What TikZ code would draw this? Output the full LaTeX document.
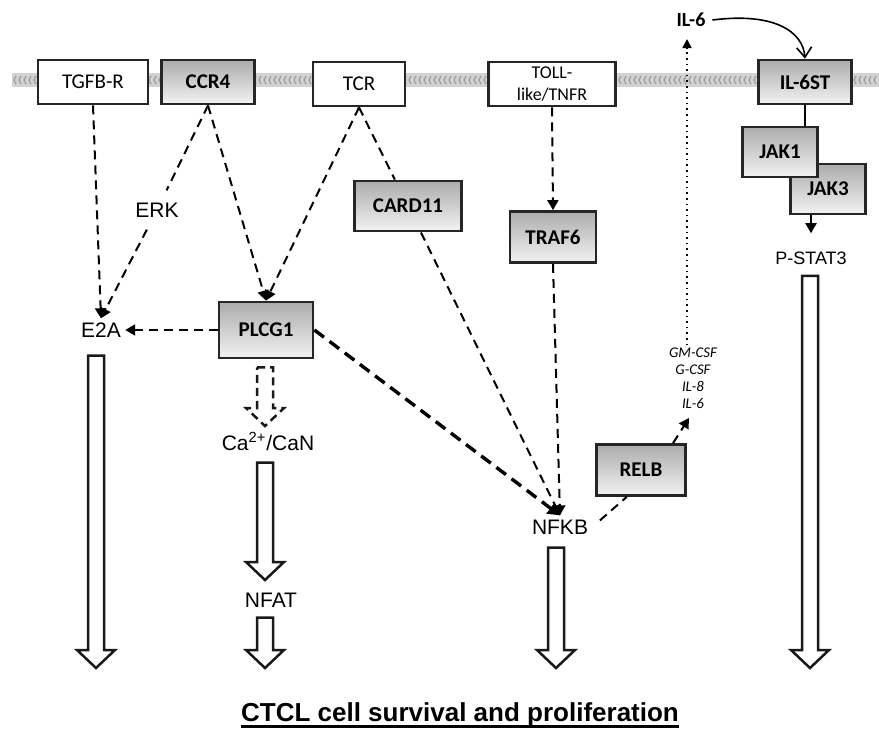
\documentclass[tikz,border=0pt]{standalone}
\usepackage{fontspec}
\setmainfont{Liberation Sans}
\newfontfamily\calfont{Carlito}
\usepackage{tikz}
\usetikzlibrary{arrows.meta,calc}

\tikzset{
  membox/.style={draw=black!85, line width=1.4pt, fill=white, inner sep=1pt, align=center,
    font=\calfont\fontsize{10.5}{11}\selectfont},
  protbox/.style={membox, top color=gray!65, bottom color=gray!10,
    font=\calfont\bfseries\fontsize{10.5}{12}\selectfont},
  plain/.style={font=\fontsize{10.5}{12}\selectfont, inner sep=2pt},
  sigline/.style={line width=1pt, dash pattern=on 4.5pt off 3pt},
  sig/.style={sigline, -{Triangle[length=5pt,width=5.5pt]}},
  heavy/.style={line width=1.7pt, dash pattern=on 6pt off 3.5pt, -{Triangle[length=6pt,width=6.5pt]}},
  fat/.style={line width=1.25pt, draw=black!90, fill=white, line join=miter},
}
% hollow block arrow: top from #2, tip at #3
\newcommand{\fatarrow}[3][]{%
  \draw[fat,#1] let \p1=#2, \p2=#3 in
    (\x2-4pt,\y1) -- (\x2+4pt,\y1) -- (\x2+4pt,\y2+9pt) -- (\x2+9.5pt,\y2+9pt)
    -- (\x2,\y2) -- (\x2-9.5pt,\y2+9pt) -- (\x2-4pt,\y2+9pt) -- cycle;}
\def\ulbold#1{\setbox0=\hbox{#1}\leavevmode\rlap{\vrule width\wd0 height -2pt depth 3.3pt}\box0}

\begin{document}
\begin{tikzpicture}[x=0.5pt, y=-0.5pt]
  \useasboundingbox (0,0) rectangle (879,730);
  % membrane
  \fill[gray!35] (12,73) rectangle (879,87);
  \foreach \i in {14,19,...,874}
    \draw[gray!75, line width=0.6pt] (\i+2,76) -- (\i,80) -- (\i+2,84);

  % receptors
  \node[membox, minimum width=55pt, minimum height=22pt] (tgfbr) at (93,82) {TGFB-R};
  \node[protbox, minimum width=46.5pt, minimum height=22pt] (ccr4) at (208,82) {CCR4};
  \node[membox, minimum width=46pt, minimum height=22pt] (tcr) at (359,84) {TCR};
  \node[membox, minimum width=63.5pt, minimum height=22pt,
    font=\calfont\fontsize{9}{11}\selectfont] (toll) at (552,84) {TOLL-\\like/TNFR};
  \node[protbox, minimum width=46.5pt, minimum height=22pt] (il6st) at (805,82) {IL-6ST};

  % kinases and adaptors
  \node[protbox, minimum width=37.5pt, minimum height=25pt] (jak3) at (828,189) {JAK3};
  \node[protbox, minimum width=37.5pt, minimum height=25pt] (jak1) at (780,152) {JAK1};
  \node[protbox, minimum width=53.5pt, minimum height=25pt] (card11) at (408,206) {CARD11};
  \node[protbox, minimum width=43pt, minimum height=25.5pt] (traf6) at (553,237) {TRAF6};
  \node[protbox, minimum width=47pt, minimum height=28pt] (plcg1) at (266,330) {PLCG1};
  \node[protbox, minimum width=44.5pt, minimum height=25.5pt] (relb) at (641,470) {RELB};

  % plain labels
  \node[plain] (e2a) at (101,330) {E2A};
  \node[plain, inner sep=6pt] (erk) at (157,210) {ERK};
  \node[plain] (ca) at (268,441) {Ca\textsuperscript{2+}/CaN};
  \node[plain] (nfat) at (271,600) {NFAT};
  \node[plain] (nfkb) at (560,527) {NFKB};
  \node[plain, font=\fontsize{9}{11}\selectfont] (pstat3) at (811,258) {P-STAT3};
  \node[font=\calfont\bfseries\fontsize{10}{12}\selectfont] (il6) at (691,20) {IL-6};
  \node[font=\calfont\itshape\fontsize{7.4}{8.5}\selectfont, align=center, inner sep=1pt]
    (cyto) at (693,378) {GM-CSF\\G-CSF\\IL-8\\IL-6};
  \node[font=\bfseries\fontsize{13}{15}\selectfont] (title) at (460,715)
    {\ulbold{CTCL cell survival and proliferation}};

  \coordinate (cyto-up) at (687,39);
  \coordinate (cyto-in) at (689,418);

  % signalling
  \draw[sig] (tgfbr.south) -- (e2a.north);
  \draw[sig] (ccr4.south) -- (erk) -- (e2a.north);
  \draw[sig] (ccr4.south) -- (plcg1.north);
  \draw[sig] (tcr.south) -- (plcg1.north);
  \draw[sigline] (tcr.south) -- (card11);
  \draw[sig] (card11) -- (nfkb.north);
  \draw[sig] (toll.south) -- (traf6.north);
  \draw[sig] (traf6.south) -- (nfkb.north);
  \draw[heavy] (plcg1.east) -- (nfkb.north);
  \draw[sig] (plcg1.west) -- (e2a.east);
  \draw[sigline, shorten <=5pt] (nfkb.east) -- (relb.-118);
  \draw[sig] (relb.40) -- (cyto-in);
  \draw[line width=0.8pt, dotted, -{Triangle[length=4.5pt,width=4.5pt]}]
    ($(cyto.north)+(-6,0)$) -- (cyto-up);

  % IL-6 / JAK / STAT3
  \draw[line width=0.8pt, -{Straight Barb[length=5pt,width=7.5pt]}]
    (il6.east) .. controls (775,12) and (803,32) .. (il6st.north);
  \draw[line width=1pt] (il6st.south) -- (il6st.south |- jak1.north);
  \draw[line width=1pt, shorten >=7pt, -{Triangle[length=5pt,width=5.5pt]}]
    (jak3.south -| pstat3.north) -- (pstat3.north);

  % block arrows
  \coordinate (e2a-end) at (96,668);
  \coordinate (ca-in) at (265,426);
  \coordinate (nfat-in) at (265,580);
  \coordinate (nfat-end) at (265,668);
  \coordinate (nfkb-end) at (556,668);
  \coordinate (stat-end) at (810,668);
  \fatarrow[dash pattern=on 4pt off 2.5pt]{($(plcg1.south)+(0,8)$)}{(ca-in)}
  \fatarrow{($(e2a.south)+(0,14)$)}{(e2a-end)}
  \fatarrow{($(ca.south)+(0,8)$)}{(nfat-in)}
  \fatarrow{($(nfat.south)+(0,6)$)}{(nfat-end)}
  \fatarrow{($(nfkb.south)+(0,9)$)}{(nfkb-end)}
  \fatarrow{($(pstat3.south)+(0,7)$)}{(stat-end)}
\end{tikzpicture}
\end{document}
